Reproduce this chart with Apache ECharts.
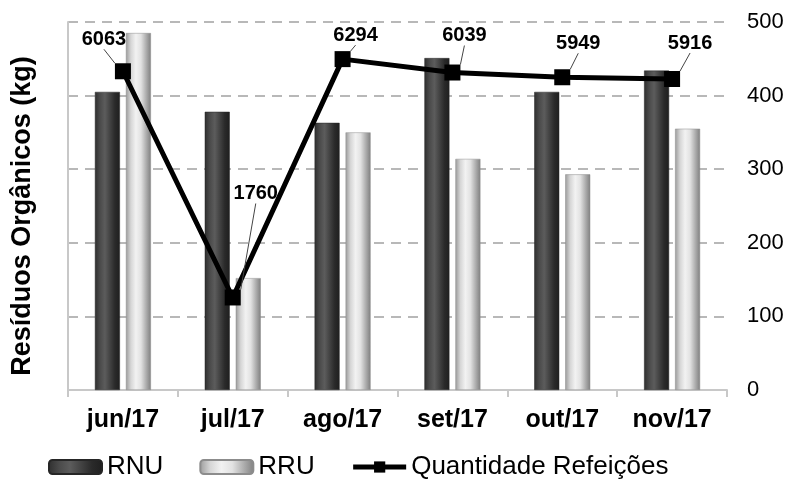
<!DOCTYPE html>
<html>
<head>
<meta charset="utf-8">
<script src="https://cdn.jsdelivr.net/npm/echarts@6/dist/echarts.min.js"></script>
<style>
  html, body { margin: 0; padding: 0; background: #fff; }
  #chart { width: 788px; height: 488px; }
</style>
</head>
<body>
<div id="chart"></div>
<script>
const months = ['jun/17', 'jul/17', 'ago/17', 'set/17', 'out/17', 'nov/17'];
const rnu = [405, 378, 363, 451, 405, 434];
const rru = [485, 152, 350, 314, 293, 355];
const refeicoes = [6063, 1760, 6294, 6039, 5949, 5916];
const rightTicks = [0, 100, 200, 300, 400, 500];

// label nudges (dx, dy) for the meal counts
const labelShift = [[-19, -9], [23, -81], [13, -1], [12, -14], [16, -11], [18, -13]];

const chart = echarts.init(document.getElementById('chart'));

function hGrad(stops) {
    return new echarts.graphic.LinearGradient(0, 0, 1, 0,
        stops.map((c, i) => ({ offset: i / (stops.length - 1), color: c })));
}

const option = {
    animation: false,
    textStyle: { fontFamily: 'Liberation Sans, Arial, sans-serif' },
    grid: { left: 68, right: 61, top: 22, bottom: 98 },
    legend: {
        left: 43,
        bottom: 3,
        itemWidth: 53,
        itemHeight: 14,
        itemGap: 36,
        textStyle: { fontSize: 26, color: '#000' },
        data: [
            'RNU',
            'RRU',
            { name: 'Quantidade Refeições', lineStyle: { width: 5, color: '#000' } }
        ]
    },
    xAxis: {
        type: 'category',
        data: months,
        axisLine: { lineStyle: { color: '#c8c8c8', width: 2 } },
        axisTick: { show: true, length: 7, lineStyle: { color: '#c8c8c8', width: 2 } },
        axisLabel: { fontSize: 25, fontWeight: 'bold', color: '#000', margin: 18 }
    },
    yAxis: [
        {
            type: 'value',
            min: 0,
            max: 7000,
            name: 'Resíduos Orgânicos (kg)',
            nameLocation: 'middle',
            nameGap: 32,
            nameTextStyle: { fontSize: 27, fontWeight: 'bold', color: '#000', padding: [0, 20, 0, 0] },
            axisLine: { show: true, lineStyle: { color: '#c8c8c8', width: 2 } },
            axisTick: { show: false },
            axisLabel: { show: false },
            splitLine: { show: false }
        },
        {
            type: 'value',
            position: 'right',
            min: 0,
            max: 500,
            interval: 100,
            axisLine: { show: false },
            axisTick: { show: false },
            axisLabel: {
                fontSize: 22, color: '#000', margin: 20,
                formatter: v => rightTicks.includes(v) ? String(v) : ''
            },
            splitLine: { lineStyle: { color: '#b8b8b8', type: [10, 7], width: 2 } }
        }
    ],
    series: [
        {
            name: 'RNU',
            type: 'bar',
            yAxisIndex: 1,
            barWidth: 25,
            barGap: '24%',
            data: rnu,
            itemStyle: {
                color: hGrad(['#2e2e2e', '#4a4a4a', '#5c5c5c', '#434343', '#2a2a2a', '#1f1f1f']),
                borderColor: '#262626',
                borderWidth: 0.5
            }
        },
        {
            name: 'RRU',
            type: 'bar',
            yAxisIndex: 1,
            barWidth: 25,
            data: rru,
            itemStyle: {
                color: hGrad(['#9a9a9a', '#d6d6d6', '#f2f2f2', '#e2e2e2', '#b0b0b0', '#7f7f7f']),
                borderColor: '#8c8c8c',
                borderWidth: 0.5
            }
        },
        {
            name: 'Quantidade Refeições',
            type: 'line',
            yAxisIndex: 0,
            data: refeicoes,
            z: 5,
            symbol: 'rect',
            symbolSize: 16,
            lineStyle: { color: '#000', width: 5 },
            itemStyle: { color: '#000' },
            label: {
                show: true,
                position: 'top',
                fontSize: 20,
                fontWeight: 'bold',
                color: '#000'
            },
            labelLine: { show: true, lineStyle: { color: '#444', width: 1 } },
            labelLayout: function (params) {
                const s = labelShift[params.dataIndex];
                return { dx: s[0], dy: s[1] };
            }
        }
    ]
};

chart.setOption(option);
</script>
</body>
</html>
